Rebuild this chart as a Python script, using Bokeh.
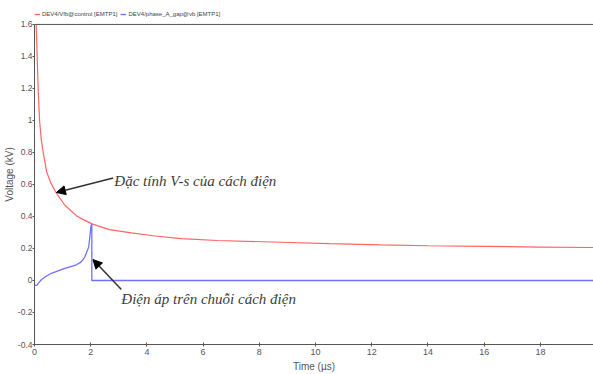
from bokeh.plotting import figure
from bokeh.models import (Label, Arrow, NormalHead, Legend, LegendItem, FixedTicker,
                          Span, Range1d)
from bokeh.embed import file_html
from bokeh.resources import INLINE

# ---- data ----
vs_time = [0.06, 0.095, 0.13, 0.18, 0.24, 0.31, 0.43, 0.58, 0.78, 1.08, 1.49,
           1.72, 2.07, 2.66, 3.45, 4.3, 5.22, 6.5, 8.77, 10.5, 12.3, 14.0, 16.0, 18.0,
           20.0]
vs_volt = [1.6, 1.4, 1.2, 1.0, 0.88, 0.8, 0.68, 0.61, 0.545, 0.47, 0.405, 0.382,
           0.352, 0.318, 0.297, 0.278, 0.262, 0.250, 0.239, 0.230, 0.222, 0.217, 0.213,
           0.209, 0.206]

gap_time = [0.0, 0.08, 0.15, 0.25, 0.4, 0.6, 1.08, 1.49, 1.65, 1.78, 1.93, 2.01, 2.04,
            2.04, 20.0]
gap_volt = [-0.03, -0.03, -0.015, 0.006, 0.025, 0.045, 0.075, 0.098, 0.115, 0.143, 0.21,
            0.34, 0.353, 0.0, 0.0]

x_ticks = [0, 2, 4, 6, 8, 10, 12, 14, 16, 18]
x_tick_labels = ["0", "2", "4", "6", "8", "10", "12", "14", "16", "18"]
y_ticks = [-0.4, -0.2, 0, 0.2, 0.4, 0.6, 0.8, 1, 1.2, 1.4, 1.6]
y_tick_labels = ["-0.4", "-0.2", "0", "0.2", "0.4", "0.6", "0.8", "1", "1.2", "1.4", "1.6"]

series_names = ["DEV4/Vfb@control [EMTP1]", "DEV4/phase_A_gap@vb [EMTP1]"]
note_vs = "Đặc tính V-s của cách điện"
note_gap = "Điện áp trên chuỗi cách điện"
x_title = "Time (µs)"
y_title = "Voltage (kV)"

Y_MIN, Y_MAX = -0.4, 1.6
Y_HEADROOM = 1.7246   # frame extends above the 1.6 border to host the legend

AX_FONT = "Liberation Sans"
AX_COLOR = "#555555"

p = figure(width=593, height=374, output_backend="svg", toolbar_location=None,
           x_range=Range1d(0, 19.89), y_range=Range1d(Y_MIN, Y_HEADROOM),
           min_border_left=33, min_border_right=0, min_border_top=4,
           min_border_bottom=29)
p.outline_line_color = None
p.xgrid.grid_line_color = None
p.ygrid.grid_line_color = None
p.background_fill_color = "white"
p.border_fill_color = "white"

r_vs = p.line(vs_time, vs_volt, line_color="#ff6464", line_width=1.2)
r_gap = p.line(gap_time, gap_volt, line_color="#7070ff", line_width=1.3)

# top border line of the plotting box
p.add_layout(Span(location=Y_MAX, dimension="width", line_color=AX_COLOR, line_width=1))

for ax in (p.xaxis[0], p.yaxis[0]):
    ax.axis_line_color = AX_COLOR
    ax.major_tick_line_color = AX_COLOR
    ax.minor_tick_line_color = None
    ax.major_label_text_font = AX_FONT
    ax.major_label_text_color = AX_COLOR
    ax.axis_label_text_font = AX_FONT
    ax.axis_label_text_font_style = "normal"
    ax.axis_label_text_color = AX_COLOR

p.xaxis.ticker = FixedTicker(ticks=x_ticks)
p.xaxis.major_label_overrides = dict(zip(x_ticks, x_tick_labels))
p.xaxis.major_label_text_font_size = "9px"
p.xaxis.major_tick_in = 2
p.xaxis.major_tick_out = 2
p.xaxis.major_label_standoff = 2
p.xaxis.axis_label = x_title
p.xaxis.axis_label_standoff = 3
p.xaxis.axis_label_text_font_size = "10px"

p.yaxis.ticker = FixedTicker(ticks=y_ticks)
p.yaxis.major_label_overrides = dict(zip(y_ticks, y_tick_labels))
p.yaxis.major_label_text_font_size = "8.5px"
p.yaxis.bounds = (Y_MIN, Y_MAX)
p.yaxis.major_tick_in = 0
p.yaxis.major_tick_out = 2
p.yaxis.major_label_standoff = 0
p.yaxis.axis_label = y_title
p.yaxis.axis_label_standoff = 0
p.yaxis.axis_label_text_font_size = "10px"

# annotations
NOTE_COLOR = "#3c3c3c"
p.add_layout(Label(x=2.84, y=0.623, text=note_vs, text_font="Liberation Serif",
                   text_font_style="italic", text_font_size="15px", text_color=NOTE_COLOR,
                   text_baseline="alphabetic"))
p.add_layout(Label(x=3.09, y=-0.118, text=note_gap, text_font="Liberation Serif",
                   text_font_style="italic", text_font_size="15px", text_color=NOTE_COLOR,
                   text_baseline="alphabetic"))
p.add_layout(Arrow(x_start=2.80, y_start=0.64, x_end=0.78, y_end=0.55,
                   line_color="#333333", line_width=1.5,
                   end=NormalHead(size=9, fill_color="black", line_color="black")))
p.add_layout(Arrow(x_start=3.09, y_start=-0.056, x_end=2.08, y_end=0.131,
                   line_color="#333333", line_width=1.5,
                   end=NormalHead(size=9, fill_color="black", line_color="black")))

legend = Legend(items=[LegendItem(label=series_names[0], renderers=[r_vs]),
                       LegendItem(label=series_names[1], renderers=[r_gap])],
                location=(0, 326), orientation="horizontal",
                label_text_font=AX_FONT, label_text_font_size="6px",
                label_text_color="#444444", label_height=8, glyph_height=8,
                glyph_width=6, label_standoff=2, spacing=3, padding=0, margin=0,
                border_line_color=None, background_fill_alpha=0)
p.add_layout(legend, "center")

open("out.html", "w").write(file_html(p, INLINE))
